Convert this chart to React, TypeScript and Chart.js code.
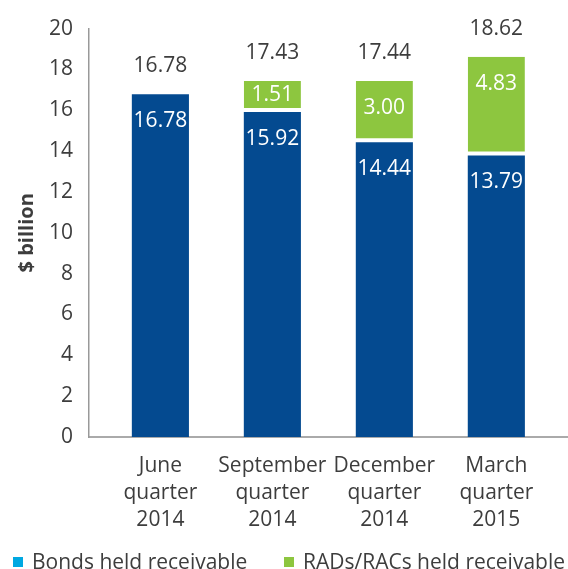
import React, { useEffect, useRef } from "react";
import { Chart, registerables } from "chart.js";

Chart.register(...registerables);

const categories: string[][] = [
  ["June", "quarter", "2014"],
  ["September", "quarter", "2014"],
  ["December", "quarter", "2014"],
  ["March", "quarter", "2015"],
];
const bondsValues: number[] = [16.78, 15.92, 14.44, 13.79];
const radsValues: (number | null)[] = [null, 1.51, 3.0, 4.83];
const totals: number[] = [16.78, 17.43, 17.44, 18.62];
const seriesNames = ["Bonds held receivable", "RADs/RACs held receivable"];

const NAVY = "#044a90";
const GREEN = "#8dc63f";
const CYAN = "#00a8e1";
const TEXT = "#3d3d3d";
const FONT = "'Open Sans', 'Noto Sans', sans-serif";

const labelPlugin = {
  id: "valueLabels",
  afterDatasetsDraw(chart: any) {
    const ctx = chart.ctx;
    ctx.save();
    ctx.font = `21px ${FONT}`;
    ctx.textAlign = "center";
    ctx.textBaseline = "middle";
    const tops: number[] = [];
    chart.data.datasets.forEach((ds: any, di: number) => {
      const meta = chart.getDatasetMeta(di);
      meta.data.forEach((el: any, i: number) => {
        const v = ds.data[i]?.y;
        if (v == null) return;
        const top = Math.min(el.y, el.base);
        const h = Math.abs(el.base - el.y);
        tops[i] = tops[i] === undefined ? top : Math.min(tops[i], top);
        ctx.fillStyle = "#ffffff";
        ctx.fillText(v.toFixed(2), el.x, top + Math.min(27, h / 2 - 1));
      });
    });
    const meta0 = chart.getDatasetMeta(0);
    ctx.fillStyle = TEXT;
    totals.forEach((t, i) => {
      const el = meta0.data[i];
      ctx.fillText(t.toFixed(2), el.x, tops[i] - 28);
    });
    ctx.restore();
  },
  afterDraw(chart: any) {
    const ctx = chart.ctx;
    ctx.save();
    ctx.font = `21px ${FONT}`;
    ctx.textAlign = "left";
    ctx.textBaseline = "alphabetic";
    const items = [
      { color: CYAN, x: 13, text: seriesNames[0] },
      { color: GREEN, x: 284, text: seriesNames[1] },
    ];
    items.forEach((it) => {
      ctx.fillStyle = it.color;
      ctx.fillRect(it.x, 557, 10, 10);
      ctx.fillStyle = TEXT;
      ctx.fillText(it.text, it.x + 19, 569);
    });
    ctx.restore();
  },
};

export default function App() {
  const ref = useRef<HTMLCanvasElement | null>(null);
  useEffect(() => {
    if (!ref.current) return;
    const chart = new Chart(ref.current, {
      type: "bar",
      data: {
        datasets: [
          {
            label: seriesNames[0],
            data: bondsValues.map((v, i) => ({ x: i, y: v })),
            backgroundColor: NAVY,
            borderWidth: 0,
            categoryPercentage: 1,
            barPercentage: 0.51,
          },
          {
            label: seriesNames[1],
            data: radsValues.map((v, i) => ({ x: i, y: v })),
            backgroundColor: GREEN,
            borderColor: "#ffffff",
            borderWidth: { top: 0, left: 0, right: 0, bottom: 4 },
            borderSkipped: false,
            categoryPercentage: 1,
            barPercentage: 0.51,
          },
        ] as any,
      },
      options: {
        animation: false,
        responsive: false,
        layout: { padding: { top: 27, left: 0, right: 0, bottom: 0 } },
        plugins: { legend: { display: false }, tooltip: { enabled: false } },
        scales: {
          x: {
            type: "linear",
            stacked: true,
            offset: false,
            min: -0.6375,
            max: 3.64,
            grid: { display: false, drawTicks: false, offset: false },
            border: { display: true, color: "#aaaaaa", width: 2 },
            ticks: {
              autoSkip: false,
              maxRotation: 0,
              minRotation: 0,
              padding: 15,
              color: TEXT,
              font: { family: FONT, size: 21, lineHeight: 1.3 },
              callback: (v: any) =>
                Number.isInteger(v) && categories[v] ? categories[v] : "",
            },
            afterBuildTicks: (s: any) => {
              s.ticks = categories.map((_, i) => ({ value: i }));
            },
            afterFit: (s: any) => {
              s.height = 132;
            },
          },
          y: {
            stacked: true,
            min: 0,
            max: 20,
            grid: { display: false, drawTicks: false },
            border: { display: true, color: "#999999", width: 1.5 },
            ticks: {
              stepSize: 2,
              padding: 16,
              color: TEXT,
              font: { family: FONT, size: 21 },
            },
            title: {
              display: true,
              text: "$ billion",
              color: TEXT,
              font: { family: FONT, size: 20, weight: "bold" },
              padding: { top: 15, bottom: 0 },
            },
            afterFit: (s: any) => {
              s.width = 89;
            },
          },
        },
      } as any,
      plugins: [labelPlugin],
    });
    return () => chart.destroy();
  }, []);
  return (
    <div style={{ position: "fixed", left: 0, top: 0, width: 568, height: 569, background: "#fff" }}>
      <canvas ref={ref} width={568} height={569} style={{ width: 568, height: 569 }} />
    </div>
  );
}
